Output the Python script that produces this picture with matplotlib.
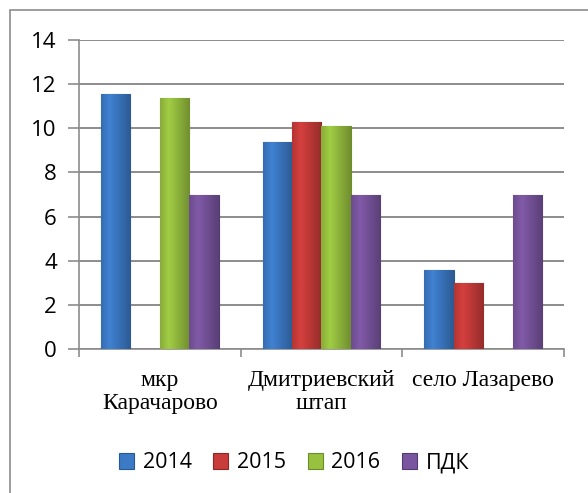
import matplotlib.pyplot as plt
import numpy as np
from matplotlib.patches import Rectangle
from matplotlib.colors import to_rgb

# Данные
categories = ["мкр\nКарачарово", "Дмитриевский\nштап", "село Лазарево"]
series_names = ["2014", "2015", "2016", "ПДК"]
v2014 = [11.55, 9.4, 3.6]
v2015 = [0, 10.3, 3.0]
v2016 = [11.35, 10.1, 0]
vpdk = [7.0, 7.0, 7.0]
yticks = [0, 2, 4, 6, 8, 10, 12, 14]

colors = ["#3c7ac6", "#c83c3a", "#98c140", "#7a559f"]
edges = ["#255a96", "#8e2826", "#6b8c2a", "#533a73"]

fig = plt.figure(figsize=(5.88, 4.93), dpi=100)
# рамка диаграммы
fig.patches.append(Rectangle((10 / 588, -0.1), 1.2, 1 - 10 / 493 + 0.1,
                             transform=fig.transFigure, fill=False,
                             edgecolor="#8c8c8c", linewidth=1.2))

ax = fig.add_axes([79 / 588, 1 - 349 / 493, (564 - 79) / 588, (349 - 40) / 493])

x = np.arange(len(categories))
w = 1 / 5.5
values = [v2014, v2015, v2016, vpdk]
# лёгкий объём: градиент поперёк столбца
shade = np.concatenate([np.linspace(0.9, 1.05, 6), np.linspace(1.05, 0.75, 14)])
for i, vals in enumerate(values):
    bars = ax.bar(x + (i - 1.5) * w, vals, width=w, color=colors[i],
                  edgecolor=edges[i], linewidth=0.8, label=series_names[i], zorder=3)
    base = np.array(to_rgb(colors[i]))
    grad = np.clip(shade[None, :, None] * base[None, None, :], 0, 1)
    for b in bars:
        if b.get_height() <= 0:
            continue
        bx, bw, bh = b.get_x(), b.get_width(), b.get_height()
        im = ax.imshow(grad, extent=(bx, bx + bw, 0, bh), aspect="auto",
                       zorder=3.5, interpolation="bilinear")
        im.set_clip_path(b)

ax.set_xlim(-0.5, 2.5)
ax.set_ylim(0, 14)
ax.set_yticks(yticks)
ax.set_yticklabels([str(t) for t in yticks], fontsize=16, family="Open Sans")
ax.grid(axis="y", color="#8c8c8c", linewidth=1.4, zorder=0)
ax.set_axisbelow(True)

ax.set_xticks([-0.5, 0.5, 1.5, 2.5])
ax.set_xticklabels([])
ax.set_xticks(x, minor=True)
ax.set_xticklabels(categories, minor=True, fontsize=17, family="Liberation Serif",
                   linespacing=1.15)
ax.tick_params(axis="x", which="minor", length=0, pad=15)
ax.tick_params(axis="x", which="major", length=6, color="#8c8c8c", width=1.2)
ax.tick_params(axis="y", length=8, color="#8c8c8c", width=1.2, pad=8)

for s in ["top", "right"]:
    ax.spines[s].set_visible(False)
for s in ["left", "bottom"]:
    ax.spines[s].set_color("#8c8c8c")
    ax.spines[s].set_linewidth(1.2)

fig.legend(loc="center", bbox_to_anchor=(0.5, 1 - 463 / 493), ncol=4,
           frameon=False, prop={"family": "Open Sans", "size": 15.5},
           handlelength=0.7, handleheight=0.7, handletextpad=0.4, columnspacing=1.0)

plt.savefig("out.png", dpi=100)
